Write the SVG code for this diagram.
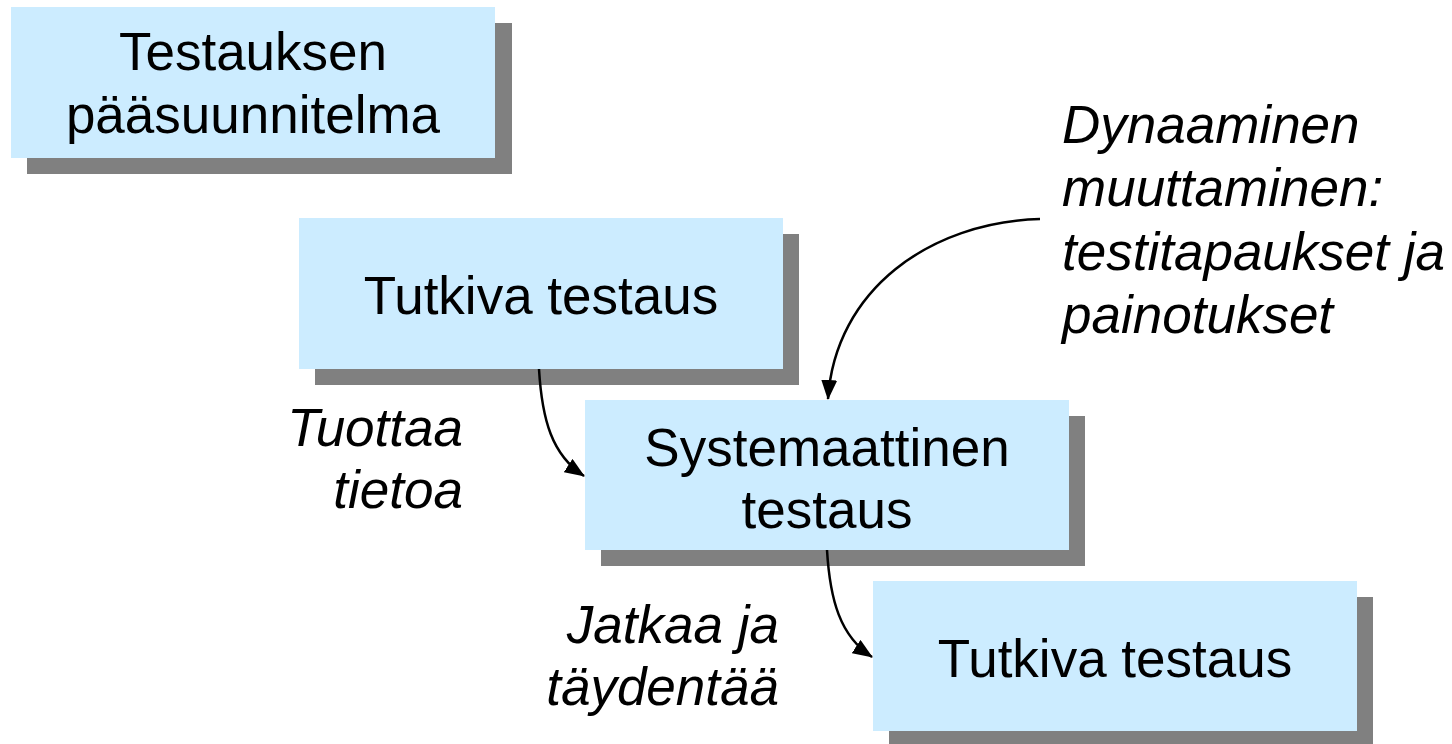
<svg xmlns="http://www.w3.org/2000/svg" width="1452" height="744" viewBox="0 0 1452 744">
<style>
.box{fill:#CCECFF}
.sh{fill:#808080}
.t{font-family:"Liberation Sans",Arial,sans-serif;font-size:53px;fill:#000;text-anchor:middle}
.lbl{font-family:"Liberation Sans",Arial,sans-serif;font-size:53px;font-style:italic;fill:#000}
.con{fill:none;stroke:#000;stroke-width:2.5}
</style>
<defs>
<marker id="ah" markerUnits="userSpaceOnUse" markerWidth="20" markerHeight="16" viewBox="0 0 20 16" refX="19" refY="8" orient="auto">
<path d="M0,0 L20,8 L0,16 Z" fill="#000"/>
</marker>
</defs>
<rect width="1452" height="744" fill="#fff"/>
<g id="node-paasuunnitelma">
<rect class="sh" x="27" y="23" width="485" height="151"/>
<rect class="box" x="11" y="7" width="484" height="151"/>
<text class="t" x="253" y="70">Testauksen</text>
<text class="t" x="253" y="133">pääsuunnitelma</text>
</g>
<g id="node-tutkiva1">
<rect class="sh" x="315" y="234" width="484" height="151"/>
<rect class="box" x="299" y="218" width="484" height="151"/>
<text class="t" x="541" y="314">Tutkiva testaus</text>
</g>
<g id="node-systemaattinen">
<rect class="sh" x="601" y="416" width="484" height="150"/>
<rect class="box" x="585" y="400" width="484" height="150"/>
<text class="t" x="827" y="466">Systemaattinen</text>
<text class="t" x="827" y="528">testaus</text>
</g>
<g id="node-tutkiva2">
<rect class="sh" x="889" y="597" width="484" height="151"/>
<rect class="box" x="873" y="581" width="484" height="150"/>
<text class="t" x="1115" y="677">Tutkiva testaus</text>
</g>
<g id="labels">
<text class="lbl" x="463" y="446" text-anchor="end">Tuottaa</text>
<text class="lbl" x="463" y="508" text-anchor="end">tietoa</text>
<text class="lbl" x="779" y="643" text-anchor="end">Jatkaa ja</text>
<text class="lbl" x="779" y="705" text-anchor="end">täydentää</text>
<text class="lbl" x="1062" y="143">Dynaaminen</text>
<text class="lbl" x="1062" y="206">muuttaminen:</text>
<text class="lbl" x="1062" y="270">testitapaukset ja</text>
<text class="lbl" x="1062" y="333">painotukset</text>
</g>
<g id="connectors">
<path class="con" d="M539,369 C542,420 552,455 584,476" marker-end="url(#ah)"/>
<path class="con" d="M827,550 C830,600 840,636 872,657" marker-end="url(#ah)"/>
<path class="con" d="M1040,219 C930,222 835,290 828,399" marker-end="url(#ah)"/>
</g>
</svg>
